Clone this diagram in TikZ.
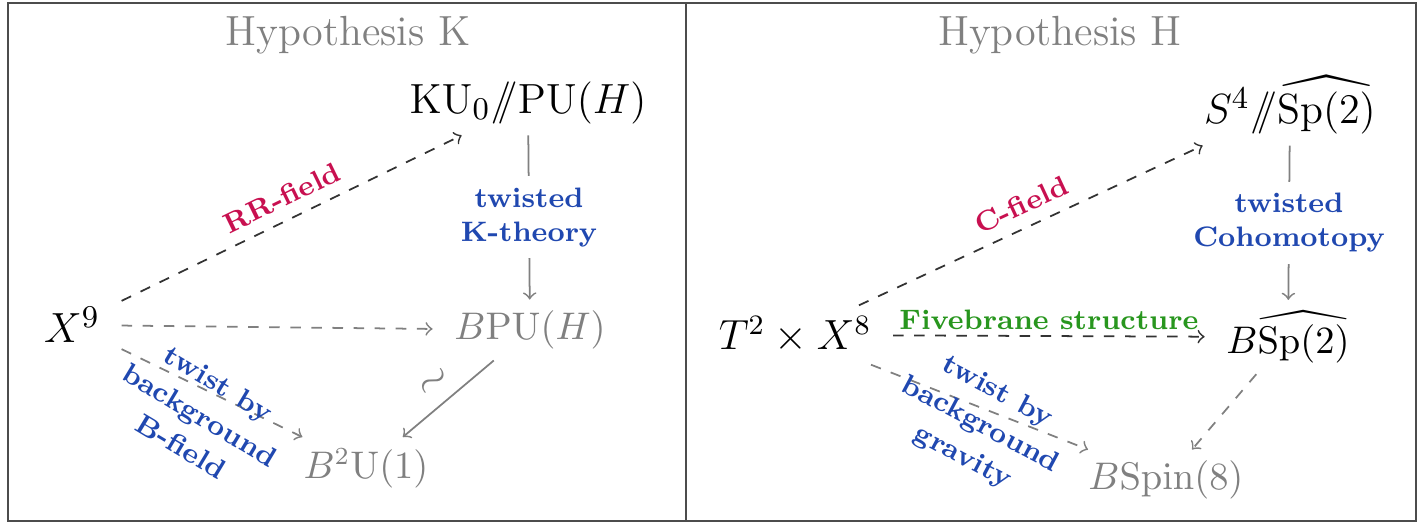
\documentclass[tikz,border=0pt]{standalone}
\usepackage{amsmath,amssymb}
\definecolor{fieldred}{RGB}{200,16,80}
\definecolor{twistblue}{RGB}{32,72,176}
\definecolor{fivegreen}{RGB}{40,150,30}
\begin{document}
\begin{tikzpicture}[
    obj/.style={font=\fontsize{13}{15}\selectfont, inner xsep=6pt, inner ysep=3pt},
    mobj/.style={font=\large, inner xsep=6pt, inner ysep=3pt},
    gobj/.style={font=\fontsize{10.5}{12}\selectfont, inner xsep=6pt, inner ysep=3pt, text=gray},
    title/.style={font=\large, text=gray},
    lbl/.style={font=\footnotesize\bfseries, align=center},
    twlbl/.style={lbl, text=twistblue},
    dk/.style={->, dashed, black!80, line width=0.5pt},
    gd/.style={->, dashed, gray, line width=0.5pt},
    gr/.style={->, gray, line width=0.5pt},
]
    \useasboundingbox (0,0) rectangle (14.18,5.24);
    % Marco y separador de las dos hipotesis
    \draw[black!70, line width=0.8pt] (0.08,0.03) rectangle (14.16,5.21);
    \draw[black!70, line width=0.8pt] (6.86,0.03) -- (6.86,5.21);
    % Hipotesis K
    \node[title] (hypK) at (3.48,4.89) {Hypothesis K};
    \node[obj] (ku) at (5.28,4.21) {$\mathrm{KU}_0/\!\!/\mathrm{PU}(H)$};
    \node[obj] (x9) at (0.72,1.99) {$X^9$};
    \node[gobj] (bpu) at (5.30,1.94) {$B\mathrm{PU}(H)$};
    \node[gobj] (b2u) at (3.66,0.56) {$B^2\mathrm{U}(1)$};
    \draw[dk] (x9) -- node[lbl, sloped, above, text=fieldred] {RR-field} (ku);
    \draw[gr] (ku) -- node[lbl, fill=white, text=twistblue] {twisted\\K-theory} (bpu);
    \draw[gd] (x9) -- (bpu);
    \draw[gd] (x9) -- (b2u);
    \node[twlbl, rotate=-31] (twK) at (2.00,1.09) {twist by\\[1pt]background\\[1pt]B-field};
    \draw[gr] (bpu) -- node[sloped, above, text=gray, font=\large] {$\sim$} (b2u);
    % Hipotesis H
    \node[title] (hypH) at (10.60,4.89) {Hypothesis H};
    \node[obj] (s4) at (12.90,4.19) {$S^4/\!\!/\widehat{\mathrm{Sp}(2)}$};
    \node[mobj] (t2x8) at (7.95,1.89) {$T^2\times X^8$};
    \node[gobj, text=black] (bsp) at (12.88,1.87) {$B\widehat{\mathrm{Sp}(2)}$};
    \node[gobj] (bspin) at (11.66,0.44) {$B\mathrm{Spin}(8)$};
    \draw[dk] (t2x8) -- node[lbl, sloped, above, text=fieldred] {C-field} (s4);
    \draw[gr] (s4) -- node[lbl, fill=white, text=twistblue] {twisted\\Cohomotopy} (bsp);
    \draw[dk] (t2x8) -- node[lbl, above, inner sep=1.5pt, text=fivegreen] {Fivebrane structure} (bsp);
    \draw[gd] (t2x8) -- (bspin);
    \node[twlbl, rotate=-28] (twH) at (9.80,0.99) {twist by\\[1pt]background\\[1pt]gravity};
    \draw[gd] (bsp) -- (bspin);
\end{tikzpicture}
\end{document}
